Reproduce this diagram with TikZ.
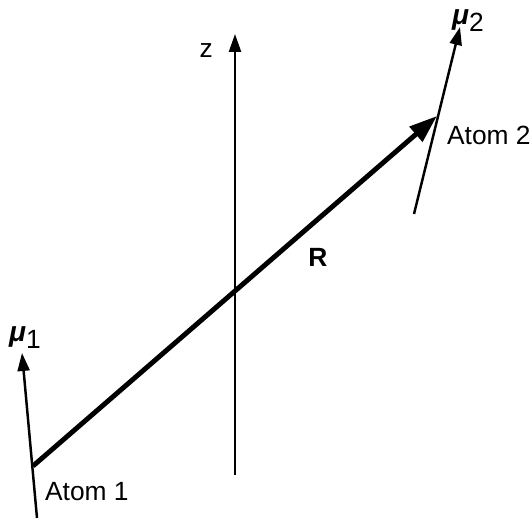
\documentclass[tikz,border=0pt]{standalone}
\usepackage{fontspec}
\setmainfont{Liberation Sans}
\usepackage{tikz}
\usetikzlibrary{arrows.meta,positioning}

\begin{document}
\begin{tikzpicture}[
      thin arrow/.style={line width=1.4pt,-{Triangle[length=0.36cm,width=0.24cm]}},
      bond/.style={line width=2.8pt,-{Triangle[length=0.56cm,width=0.38cm]}},
      lbl/.style={font=\fontsize{15}{18}\selectfont,inner sep=1pt}]
    \useasboundingbox (0,0) rectangle (10.62,10.46);
    % atoms and arrow ends
    \coordinate (atomA) at (0.66,1.14);
    \coordinate (atomB) at (8.74,8.14);
    \coordinate (muAtail) at (0.74,0.10);
    \coordinate (muAtip) at (0.44,3.40);
    \coordinate (muBtail) at (8.28,6.18);
    \coordinate (muBtip) at (9.20,9.92);
    \coordinate (zbot) at (4.70,0.96);
    \coordinate (ztop) at (4.70,9.78);
    % arrows
    \draw[thin arrow] (zbot) -- (ztop);
    \draw[thin arrow] (muAtail) -- (muAtip);
    \draw[thin arrow] (muBtail) -- (muBtip);
    \draw[bond] (atomA) -- (atomB);
    % labels
    \node[lbl,left=0.4cm of ztop,yshift=-0.34cm] (zlabel) {z};
    \node[lbl,font=\fontsize{15}{18}\selectfont\bfseries] (rlabel) at (6.36,5.32) {R};
    \node[lbl,above=0.04cm of muAtip,xshift=0.06cm] (muAlabel) {\fontsize{16}{18}\selectfont\textbf{\textit{μ}}\raisebox{-0.5ex}{\fontsize{15}{18}\selectfont 1}};
    \node[lbl,above=0cm of muBtip,xshift=0.16cm,yshift=-0.14cm] (muBlabel) {\fontsize{16}{18}\selectfont\textbf{\textit{μ}}\raisebox{-0.5ex}{\fontsize{15}{18}\selectfont 2}};
    \node[lbl,anchor=north west] (atomAlabel) at (0.86,0.86) {Atom 1};
    \node[lbl,anchor=west] (atomBlabel) at (8.90,7.76) {Atom 2};
\end{tikzpicture}
\end{document}
